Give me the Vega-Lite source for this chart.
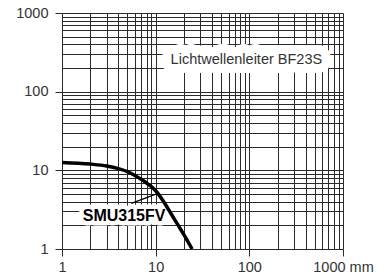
{
  "$schema": "https://vega.github.io/schema/vega-lite/v6.json",
  "width": 281,
  "height": 236,
  "autosize": "none",
  "padding": {"left": 62, "top": 13, "right": 44, "bottom": 26},
  "background": "white",
  "config": {
    "view": {"stroke": null},
    "axis": {
      "labelFont": "Liberation Sans",
      "labelFontSize": 14.5,
      "labelColor": "#333",
      "gridColor": "#2a2a2a",
      "gridOpacity": 1,
      "gridWidth": 1,
      "domain": false,
      "tickColor": "#2a2a2a",
      "tickSize": 7,
      "tickWidth": 1,
      "labelOverlap": false,
      "labelFlush": false,
      "title": null
    }
  },
  "datasets": {
    "curve": [
      {"x": 1, "y": 12.6},
      {"x": 2, "y": 12.0},
      {"x": 3, "y": 11.35},
      {"x": 4, "y": 10.5},
      {"x": 5, "y": 9.6},
      {"x": 6, "y": 8.6},
      {"x": 7, "y": 7.7},
      {"x": 8, "y": 6.9},
      {"x": 9, "y": 6.2},
      {"x": 10, "y": 5.5},
      {"x": 12, "y": 4.1},
      {"x": 14, "y": 3.05},
      {"x": 16, "y": 2.35},
      {"x": 18, "y": 1.87},
      {"x": 20, "y": 1.52},
      {"x": 22, "y": 1.25},
      {"x": 24.5, "y": 1.0}
    ],
    "notes": [
      {"label": "Lichtwellenleiter BF23S", "x": 93, "y": 250},
      {"label": "SMU315FV", "x": 4.6, "y": 2.6}
    ],
    "leader": [
      {"x": 5.5, "y": 3.8, "x2": 10.4, "y2": 5.05}
    ]
  },
  "encoding": {
    "x": {
      "field": "x",
      "type": "quantitative",
      "scale": {"type": "log", "domain": [1, 1000], "nice": false},
      "axis": {
        "values": [1,2,3,4,5,6,7,8,9,10,20,30,40,50,60,70,80,90,100,200,300,400,500,600,700,800,900,1000],
        "labelExpr": "datum.value == 1000 ? '1000 mm' : (datum.value == 1 || datum.value == 10 || datum.value == 100) ? format(datum.value, 'd') : ''",
        "tickOpacity": {"condition": {"test": "datum.value == 1 || datum.value == 10 || datum.value == 100 || datum.value == 1000", "value": 1}, "value": 0},
        "labelPadding": 4
      }
    },
    "y": {
      "field": "y",
      "type": "quantitative",
      "scale": {"type": "log", "domain": [1, 1000], "nice": false},
      "axis": {
        "values": [1,2,3,4,5,6,7,8,9,10,20,30,40,50,60,70,80,90,100,200,300,400,500,600,700,800,900,1000],
        "labelExpr": "(datum.value == 1 || datum.value == 10 || datum.value == 100 || datum.value == 1000) ? format(datum.value, 'd') : ''",
        "tickOpacity": {"condition": {"test": "datum.value == 1 || datum.value == 10 || datum.value == 100 || datum.value == 1000", "value": 1}, "value": 0},
        "labelPadding": 7
      }
    }
  },
  "layer": [
    {
      "data": {"name": "notes"},
      "transform": [{"filter": "datum.label == 'Lichtwellenleiter BF23S'"}],
      "mark": {"type": "text", "font": "Liberation Sans", "fontSize": 14.5, "fill": "white", "stroke": "white", "strokeWidth": 18, "strokeJoin": "round", "align": "center", "baseline": "middle"},
      "encoding": {"text": {"field": "label"}}
    },
    {
      "data": {"name": "notes"},
      "transform": [{"filter": "datum.label == 'SMU315FV'"}],
      "mark": {"type": "text", "font": "Liberation Sans", "fontSize": 16, "fontWeight": "bold", "fill": "white", "stroke": "white", "strokeWidth": 9, "strokeJoin": "round", "align": "center", "baseline": "middle"},
      "encoding": {"text": {"field": "label"}}
    },
    {
      "data": {"name": "leader"},
      "mark": {"type": "rule", "color": "black", "strokeWidth": 1.2},
      "encoding": {"x2": {"field": "x2"}, "y2": {"field": "y2"}}
    },
    {
      "data": {"name": "curve"},
      "mark": {"type": "line", "color": "black", "strokeWidth": 3.5, "interpolate": "monotone"},
      "encoding": {}
    },
    {
      "data": {"name": "notes"},
      "transform": [{"filter": "datum.label == 'Lichtwellenleiter BF23S'"}],
      "mark": {"type": "text", "font": "Liberation Sans", "fontSize": 14.5, "fill": "#333", "align": "center", "baseline": "middle"},
      "encoding": {"text": {"field": "label"}}
    },
    {
      "data": {"name": "notes"},
      "transform": [{"filter": "datum.label == 'SMU315FV'"}],
      "mark": {"type": "text", "font": "Liberation Sans", "fontSize": 16, "fontWeight": "bold", "fill": "black", "align": "center", "baseline": "middle"},
      "encoding": {"text": {"field": "label"}}
    }
  ]
}
